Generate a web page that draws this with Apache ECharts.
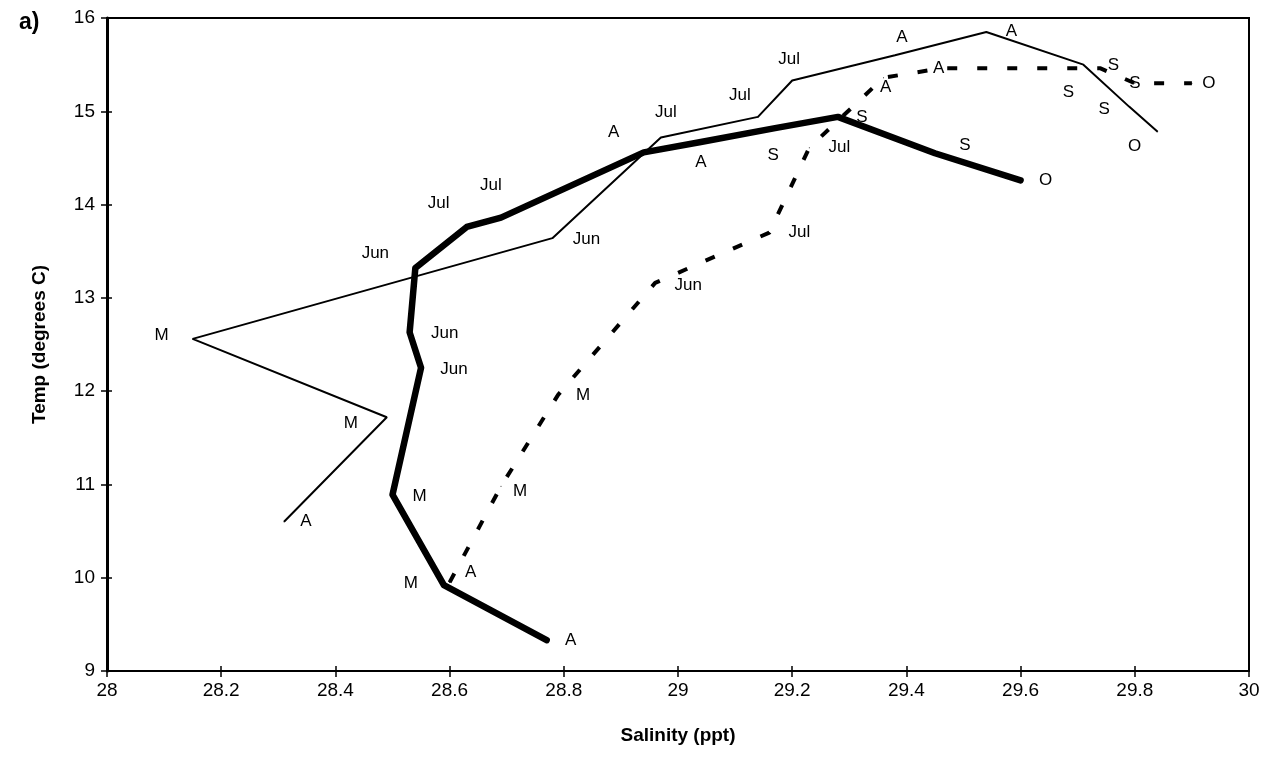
<!DOCTYPE html>
<html>
<head>
<meta charset="utf-8">
<script src="https://cdn.jsdelivr.net/npm/echarts@6/dist/echarts.min.js"></script>
<style>
  html, body { margin: 0; padding: 0; background: #fff; }
  #chart { width: 1274px; height: 771px; }
</style>
</head>
<body>
<div id="chart"></div>
<script>
// ---- Data ----
var xTicks = [28, 28.2, 28.4, 28.6, 28.8, 29, 29.2, 29.4, 29.6, 29.8, 30];
var yTicks = [9, 10, 11, 12, 13, 14, 15, 16];

// Thin solid series
var thinSal   = [28.31, 28.49, 28.15, 28.78, 28.97, 29.14, 29.20, 29.38, 29.54, 29.71, 29.79, 29.84];
var thinTemp  = [10.60, 11.72, 12.56, 13.64, 14.72, 14.94, 15.33, 15.60, 15.85, 15.50, 15.05, 14.78];
var thinMonth = ['A', 'M', 'M', 'Jun', 'Jul', 'Jul', 'Jul', 'A', 'A', 'S', 'S', 'O'];

// Thick solid series
var thickSal   = [28.77, 28.59, 28.50, 28.55, 28.53, 28.54, 28.63, 28.69, 28.94, 29.04, 29.17, 29.28, 29.45, 29.60];
var thickTemp  = [9.33, 9.92, 10.89, 12.25, 12.63, 13.32, 13.76, 13.86, 14.56, 14.67, 14.82, 14.94, 14.55, 14.26];
var thickMonth = ['A', 'M', 'M', 'Jun', 'Jun', 'Jun', 'Jul', 'Jul', 'A', 'A', 'S', 'S', 'S', 'O'];

// Dashed series
var dashSal   = [28.60, 28.69, 28.79, 28.96, 29.16, 29.23, 29.36, 29.46, 29.74, 29.80, 29.90];
var dashTemp  = [9.95, 10.98, 11.96, 13.16, 13.70, 14.61, 15.36, 15.46, 15.46, 15.30, 15.30];
var dashMonth = ['A', 'M', 'M', 'Jun', 'Jul', 'Jul', 'A', 'A', 'S', 'S', 'O'];

// ---- Label placement (styling, px offsets from each point) ----
var thinLabelOffset  = [[22,0],[-36,6],[-31,-4],[34,1],[5,-25],[-18,-22],[-3,-21],[7,-18],[25,-1],[-15,28],[-25,3],[-23,15]];
var thickLabelOffset = [[24,0],[-33,-2],[27,2],[33,1],[35,1],[-40,-15],[-28,-24],[-10,-32],[-30,-20],[0,20],[-2,27],[24,0],[30,-8],[25,0]];
var dashLabelOffset  = [[21,-10],[19,5],[25,0],[33,2],[30,0],[30,0],[2,10],[-2,0],[13,-3],[0,0],[17,0]];

function build(sal, temp, month, offs) {
  return sal.map(function (s, i) {
    return { name: month[i], value: [s, temp[i]], label: { offset: offs[i] } };
  });
}

var FONT = '"Liberation Sans", Arial, sans-serif';
var labelStyle = {
  show: true, position: 'inside', formatter: '{b}',
  color: '#000', fontFamily: FONT, fontSize: 17, align: 'center', verticalAlign: 'middle'
};

var chart = echarts.init(document.getElementById('chart'), null, { renderer: 'canvas' });
chart.setOption({
  animation: false,
  backgroundColor: '#fff',
  title: {
    text: 'a)', left: 14, top: 6,
    textStyle: { fontFamily: FONT, fontSize: 23, fontWeight: 'bold', color: '#000' }
  },
  grid: { left: 107, right: 25, top: 18, bottom: 100, show: true, borderColor: '#000', borderWidth: 2, backgroundColor: 'transparent' },
  xAxis: [{
    type: 'value', min: 28, max: 30, interval: 0.2, position: 'bottom',
    name: 'Salinity (ppt)', nameLocation: 'middle', nameGap: 55,
    nameTextStyle: { fontFamily: FONT, fontSize: 19, fontWeight: 'bold', color: '#000' },
    axisLine: { show: true, onZero: false, lineStyle: { color: '#000', width: 2 } },
    axisTick: { show: true, inside: false, length: 6, lineStyle: { color: '#000', width: 1.5 } },
    axisLabel: { fontFamily: FONT, fontSize: 19, color: '#000', margin: 10,
      formatter: function (v) { return xTicks.indexOf(Math.round(v * 10) / 10) >= 0 ? String(Math.round(v * 10) / 10) : ''; } },
    splitLine: { show: false }
  }, {
    type: 'value', min: 28, max: 30, interval: 0.2, position: 'bottom',
    axisLine: { show: false }, axisLabel: { show: false }, splitLine: { show: false },
    axisTick: { show: true, inside: true, length: 5, lineStyle: { color: '#000', width: 1.5 } }
  }],
  yAxis: [{
    type: 'value', min: 9, max: 16, interval: 1, position: 'left',
    name: 'Temp (degrees C)', nameLocation: 'middle', nameGap: 58, nameRotate: 90,
    nameTextStyle: { fontFamily: FONT, fontSize: 19, fontWeight: 'bold', color: '#000' },
    axisLine: { show: true, onZero: false, lineStyle: { color: '#000', width: 3 } },
    axisTick: { show: true, inside: false, length: 6, lineStyle: { color: '#000', width: 1.5 } },
    axisLabel: { fontFamily: FONT, fontSize: 19, color: '#000', margin: 12,
      formatter: function (v) { return yTicks.indexOf(v) >= 0 ? String(v) : ''; } },
    splitLine: { show: false }
  }, {
    type: 'value', min: 9, max: 16, interval: 1, position: 'left',
    axisLine: { show: false }, axisLabel: { show: false }, splitLine: { show: false },
    axisTick: { show: true, inside: true, length: 5, lineStyle: { color: '#000', width: 1.5 } }
  }],
  series: [{
    name: 'thin', type: 'line', xAxisIndex: 0, yAxisIndex: 0,
    data: build(thinSal, thinTemp, thinMonth, thinLabelOffset),
    symbol: 'circle', symbolSize: 1, itemStyle: { color: '#000' },
    lineStyle: { color: '#000', width: 2 },
    label: labelStyle, z: 2
  }, {
    name: 'thick', type: 'line', xAxisIndex: 0, yAxisIndex: 0,
    data: build(thickSal, thickTemp, thickMonth, thickLabelOffset),
    symbol: 'circle', symbolSize: 1, itemStyle: { color: '#000' },
    lineStyle: { color: '#000', width: 6.5, join: 'round', cap: 'round' },
    label: labelStyle, z: 3
  }, {
    name: 'dashed', type: 'line', xAxisIndex: 0, yAxisIndex: 0,
    data: build(dashSal, dashTemp, dashMonth, dashLabelOffset),
    symbol: 'circle', symbolSize: 1, itemStyle: { color: '#000' },
    lineStyle: { color: '#000', width: 4, type: [10, 20], cap: 'butt' },
    label: labelStyle, z: 4
  }]
});
</script>
</body>
</html>
